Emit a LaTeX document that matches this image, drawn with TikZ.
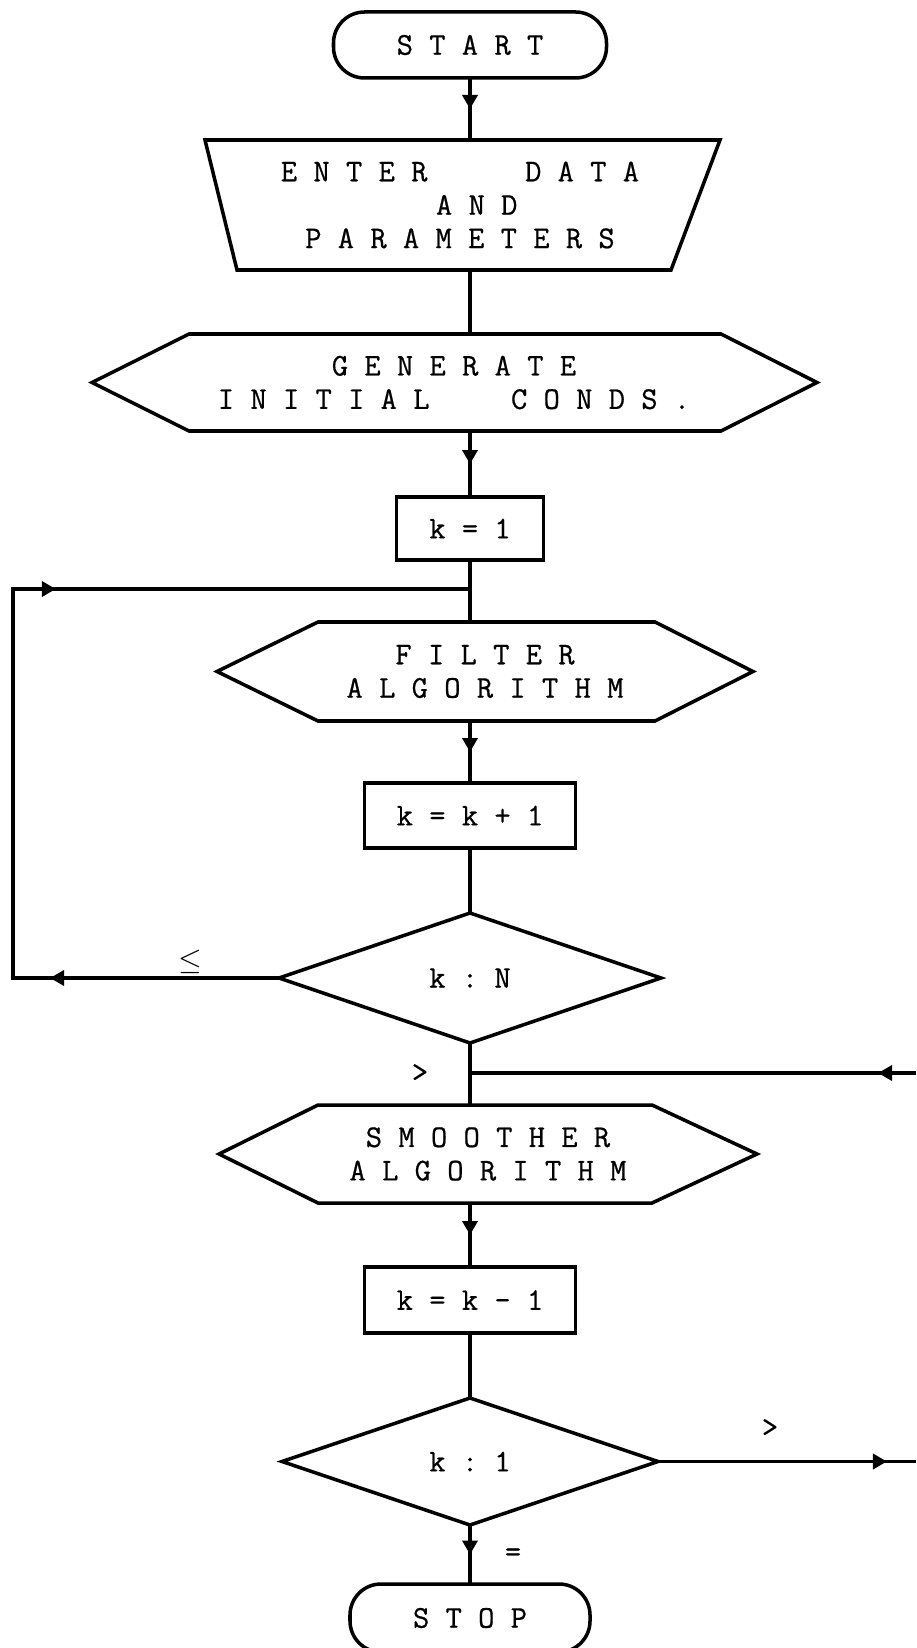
\documentclass[tikz,border=0pt]{standalone}
\usepackage{fontspec}
\newfontfamily\typewriter{Latin Modern Mono}[FakeBold=0.6]
\usetikzlibrary{arrows.meta,decorations.markings,shapes.geometric}
\def\u{0.02cm}
\tikzset{
  x=0.02cm, y=-0.02cm,
  ln/.style={line width=2pt, line join=miter},
  lbl/.style={font=\typewriter\fontsize{18}{19}\selectfont, inner sep=0pt, outer sep=0pt},
  sized/.style 2 args={minimum width=#1*\u, minimum height=#2*\u},
  holder/.style={lbl, align=center, draw=none},
  term/.style={lbl, ln, draw, rounded corners=0.62cm},
  proc/.style={lbl, ln, draw, rectangle},
  decision/.style={lbl, ln, draw, diamond},
  tri/.tip={Triangle[length=0.28cm,width=0.3cm]},
  markat/.style={postaction={decorate}, decoration={markings,
      mark=at position #1 with {\arrow{tri}}}},
  midarrow/.style={markat=0.5},
}
\begin{document}
\begin{tikzpicture}
  \fill[white] (0,0) rectangle (916,1648);
  \useasboundingbox (0,0) rectangle (916,1648);
  \clip (0,0) rectangle (916,1648);

  % start terminal
  \node[term, sized={273}{66}] (start) at (470,45) {S~T~A~R~T};

  % input of data (trapezoid)
  \node[holder, sized={515}{130}] (enter) at (460,205)
    {E~N~T~E~R~~~~~~D~A~T~A\\\hspace*{0.67cm}A~N~D\\P~A~R~A~M~E~T~E~R~S};
  \draw[ln] (205,140) -- (720,140) -- (671,270) -- (237,270) -- cycle;

  % preparation (hexagon)
  \node[holder, sized={725}{97}] (gen) at (454,382.5)
    {G~E~N~E~R~A~T~E\\I~N~I~T~I~A~L~~~~~C~O~N~D~S~.};
  \draw[ln] (189,334) -- (721,334) -- (817,382.5) -- (721,431) -- (189,431) -- (92,382.5) -- cycle;

  \node[proc, sized={147}{63}] (kone) at (470,528.5) {k~=~1};

  % filter step
  \node[holder, sized={536}{99}] (filter) at (485,671.5)
    {F~I~L~T~E~R\\A~L~G~O~R~I~T~H~M};
  \draw[ln] (318,622) -- (655,622) -- (753,671.5) -- (655,721) -- (318,721) -- (217,671.5) -- cycle;

  \node[proc, sized={211}{65}] (kplus) at (470,815.5) {k~=~k~+~1};
  \node[decision, sized={382}{130}] (kn) at (470,978) {k~:~N};

  % smoother step
  \node[holder, sized={538}{98}] (smooth) at (488,1154)
    {S~M~O~O~T~H~E~R\\A~L~G~O~R~I~T~H~M};
  \draw[ln] (318,1105) -- (652,1105) -- (757,1154) -- (652,1203) -- (318,1203) -- (219,1154) -- cycle;

  \node[proc, sized={211}{66}] (kminus) at (470,1300) {k~=~k~-~1};
  \node[decision, sized={376}{127}] (kone1) at (470,1461.5) {k~:~1};
  \node[term, sized={240}{68}] (stop) at (470,1618) {S~T~O~P};

  % junctions and loop corners
  \coordinate (jtop) at (470,589);
  \coordinate (lbot) at (13,978);
  \coordinate (ltop) at (13,589);
  \coordinate (jmid) at (470,1073);
  \coordinate (rin)  at (916,1073);
  \coordinate (rout) at (916,1461.5);

  % main column
  \draw[ln, midarrow] (start.south) -- (start |- enter.north);
  \draw[ln] (start |- enter.south) -- (start |- gen.north);
  \draw[ln, midarrow] (start |- gen.south) -- (kone.north);
  \draw[ln] (kone.south) -- (kone |- filter.north);
  \draw[ln, midarrow] (kone |- filter.south) -- (kplus.north);
  \draw[ln] (kplus.south) -- (kn.north);
  \draw[ln] (kn.south) -- (kn |- smooth.north);
  \draw[ln, midarrow] (kminus |- smooth.south) -- (kminus.north);
  \draw[ln] (kminus.south) -- (kone1.north);
  \draw[ln, midarrow] (kone1.south) -- (stop.north);

  % filter loop
  \draw[ln, postaction={decorate}, decoration={markings,
      mark=at position 4.58cm with {\arrow{tri}},
      mark=at position 13.96cm with {\arrow{tri}}}]
    (kn.west) -- (lbot) -- (ltop) -- (jtop);

  % smoother loop
  \draw[ln, markat=0.76cm] (rin) -- (jmid);
  \draw[ln, markat=4.58cm] (kone1.east) -- (rout);

  % branch labels
  \node[lbl] (le)  at (190,962)  {$\le$};
  \node[lbl] (gt1) at (420,1073) {>};
  \node[lbl] (gt2) at (770,1428) {>};
  \node[lbl] (eq)  at (513,1555) {=};
\end{tikzpicture}
\end{document}
